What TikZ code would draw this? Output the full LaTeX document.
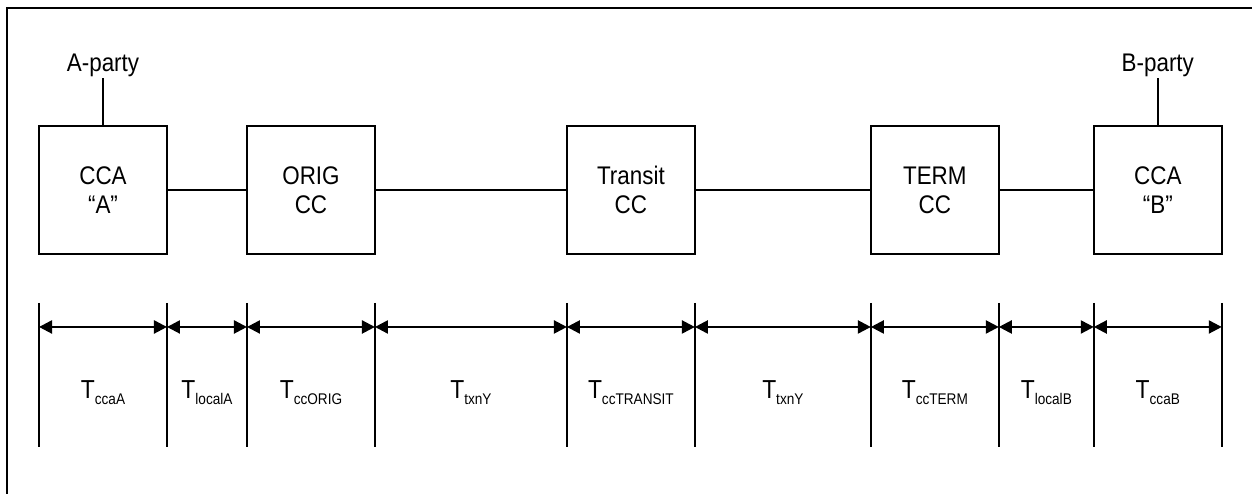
\documentclass[tikz,border=0pt]{standalone}
\usepackage{fontspec}
\setmainfont{Liberation Sans}[FakeStretch=0.88]
\usetikzlibrary{positioning, arrows.meta, calc}

\newcommand{\tsub}[1]{\raisebox{-3.4pt}{\fontsize{8.8}{10}\selectfont #1}}

\begin{document}
\begin{tikzpicture}[x=0.02cm, y=-0.02cm, line width=1.3pt, >={Triangle[length=7.4pt, width=7.4pt]},
    box/.style={draw, rectangle, minimum width=2.56cm, minimum height=2.56cm, inner sep=0pt, outer sep=0pt, align=center, font=\fontsize{14.5}{16.5}\selectfont},
    party/.style={inner sep=0pt, font=\fontsize{14.5}{16.5}\selectfont},
    tlabel/.style={anchor=base, yshift=-1.44cm, font=\fontsize{14.8}{16.5}\selectfont}]
        \useasboundingbox (0,0) rectangle (1252,494);
        \clip (0,0) rectangle (1252,494);
        \draw (7,8) rectangle (1270,510);

        % Call control boxes
        \node[box] (ccaA) at (103,190) {CCA\\“A”};
        \node[box, right=1.6cm of ccaA] (orig) {ORIG\\CC};
        \node[box, right=3.84cm of orig] (transit) {Transit\\CC};
        \node[box, right=3.52cm of transit] (term) {TERM\\CC};
        \node[box, right=1.9cm of term] (ccaB) {CCA\\“B”};

        % Parties
        \node[party, above=0.96cm of ccaA] (aparty) {A-party};
        \node[party, above=0.96cm of ccaB] (bparty) {B-party};

        % Links
        \draw (aparty) -- (ccaA);
        \draw (ccaA) -- (orig);
        \draw (orig) -- (transit);
        \draw (transit) -- (term);
        \draw (term) -- (ccaB);
        \draw (bparty) -- (ccaB);

        % Timing ticks under the box edges
        \foreach \b in {ccaA, orig, transit, term, ccaB} {
            \coordinate (\b-l) at ([yshift=-1.46cm]\b.south west);
            \coordinate (\b-r) at ([yshift=-1.46cm]\b.south east);
            \draw ([yshift=0.48cm]\b-l) -- ++(0,-2.88cm);
            \draw ([yshift=0.48cm]\b-r) -- ++(0,-2.88cm);
        }

        % Timing intervals
        \foreach \s/\e/\lab in {ccaA-l/ccaA-r/ccaA, ccaA-r/orig-l/localA, orig-l/orig-r/ccORIG,
                orig-r/transit-l/txnY, transit-l/transit-r/ccTRANSIT, transit-r/term-l/txnY,
                term-l/term-r/ccTERM, term-r/ccaB-l/localB, ccaB-l/ccaB-r/ccaB}
            \draw[<->] (\s) -- node[tlabel] {T\tsub{\lab}} (\e);

    \end{tikzpicture}
\end{document}
